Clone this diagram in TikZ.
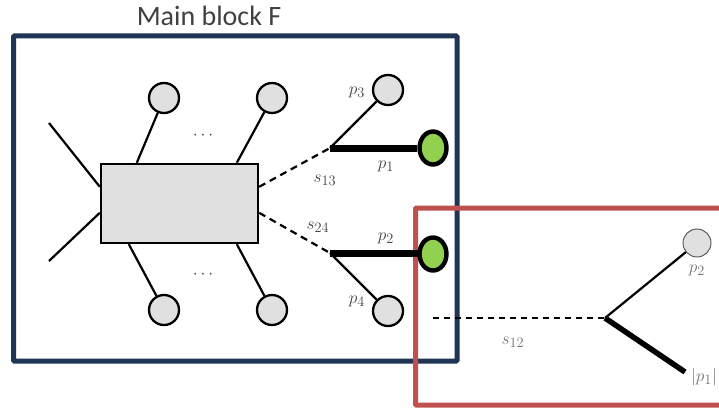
\documentclass[tikz,border=0pt]{standalone}
\usepackage{fontspec}
\newfontfamily\titlefont{Carlito}
\usetikzlibrary{shapes.geometric,calc}
\definecolor{navy}{HTML}{1F3553}
\definecolor{redbox}{HTML}{C0504D}
\definecolor{lgreen}{HTML}{92D050}
\definecolor{lgray}{HTML}{E0E0E0}
\begin{document}
\begin{tikzpicture}[x=1pt,y=-1pt,
  ball/.style={circle,draw=black,line width=2.3pt,fill=lgray,minimum size=30pt,inner sep=0pt},
  gball/.style={ellipse,draw=black,line width=4.4pt,fill=lgreen,minimum width=27pt,minimum height=33pt,inner sep=0pt},
  legline/.style={line width=2.2pt},
  heavyline/.style={line width=7pt},
  dashline/.style={line width=2.2pt,dash pattern=on 7pt off 5pt},
  lbl/.style={text=black!75,font=\fontsize{19}{22}\selectfont,inner sep=0pt}]
\useasboundingbox (0,0) rectangle (719,409);
\clip (0,0) rectangle (719,409);
% title
\node[text=black!75,font=\titlefont\fontsize{28}{30}\selectfont,anchor=base] (title) at (209,26) {Main block F};
% main block frame
\draw[navy,line width=5pt,rounded corners=1pt] (13.5,36) rectangle (457,361);
% central box
\node[draw=black,line width=2.4pt,fill=lgray,minimum width=157pt,minimum height=79pt,inner sep=0pt] (box) at (179.5,203.5) {};
% balls
\node[ball] (t1) at (164,98) {};
\node[ball] (t2) at (272,98) {};
\node[ball] (b1) at (164,310) {};
\node[ball] (b2) at (272,310) {};
\node[ball] (p3b) at (388,90) {};
\node[ball] (p4b) at (388,311) {};
\node[gball] (g1) at (433,148) {};
% dots
\node[lbl] (d1) at (203,136) {$\cdots$};
\node[lbl] (d2) at (203,275) {$\cdots$};
% legs
\coordinate (la) at (49,123);
\coordinate (lb) at (49,261);
\draw[legline] (la) -- ($(box.north west)+(0,24)$);
\draw[legline] (lb) -- ($(box.north west)+(0,50)$);
\draw[legline] ($(box.north west)+(37,0)$) -- (t1);
\draw[legline] ($(box.north west)+(137,0)$) -- (t2);
\draw[legline] ($(box.south west)+(29,0)$) -- (b1);
\draw[legline] ($(box.south west)+(137,0)$) -- (b2);
% vertices
\coordinate (v1) at (330,148);
\coordinate (v2) at (330,253);
\draw[dashline] ($(box.north east)+(0,24)$) -- (v1);
\draw[dashline] ($(box.north east)+(0,50)$) -- (v2);
\draw[legline] (v1) -- (p3b);
\draw[legline] (v2) -- (p4b);
\draw[heavyline] (v1) -- (g1);
% red frame
\draw[redbox,line width=5pt,rounded corners=1pt] (415.5,208) rectangle (740,405);
\coordinate (g2w) at (418,253);
\draw[heavyline] (v2) -- (g2w);
\node[gball] (g2) at (433,254) {};
% labels main block
\node[lbl] (ls13) at (325,180) {$s_{13}$};
\node[lbl] (lp1) at (386,166) {$p_1$};
\node[lbl] (lp3) at (357,92) {$p_3$};
\node[lbl] (ls24) at (318,227) {$s_{24}$};
\node[lbl] (lp2) at (386,238) {$p_2$};
\node[lbl] (lp4) at (357,301) {$p_4$};
% red block content
\coordinate (ds) at (433,318);
\coordinate (v3) at (605,318);
\coordinate (e1) at (685,372);
\node[circle,draw=black!70,line width=0.9pt,fill=lgray,minimum size=28pt,inner sep=0pt] (q2) at (697,243) {};
\draw[line width=2pt,dash pattern=on 6pt off 5pt] (ds) -- (v3);
\draw[line width=2.2pt] (v3) -- (q2);
\draw[line width=5.5pt] (v3) -- (e1);
\node[lbl,text=black!55] (ls12) at (513,342) {$s_{12}$};
\node[lbl,text=black!55] (lq2) at (697,270) {$p_2$};
\node[lbl,text=black!55,anchor=east] (lq1) at (717,377) {$|p_1|$};
\end{tikzpicture}
\end{document}
